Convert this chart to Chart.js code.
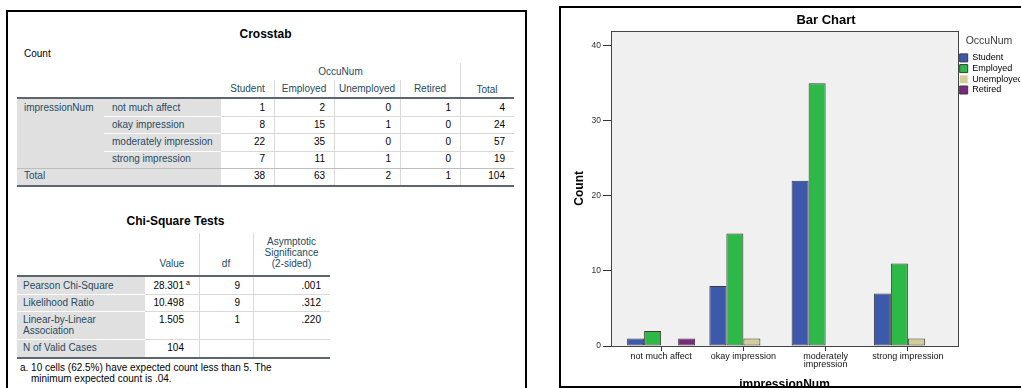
<!DOCTYPE html>
<html>
<head>
<meta charset="utf-8">
<title>impressionNum * OccuNum</title>
<script src="https://cdn.jsdelivr.net/npm/chart.js@4.4.1/dist/chart.umd.min.js"></script>
<style>
  html, body { margin: 0; padding: 0; width: 1021px; height: 388px; overflow: hidden; background: #fff; }
  body { position: relative; font-family: "Liberation Sans", Arial, sans-serif; }
  .frame { position: absolute; border: 2px solid #000; box-sizing: border-box; pointer-events: none; z-index: 5; }
  .t { position: absolute; white-space: nowrap; font-size: 10px; color: #264a60; }
  .ln { position: absolute; }
  #chartWrap { position: absolute; left: 561px; top: 8px; width: 480px; height: 392px; }
</style>
</head>
<body>
<div id="tables"></div>
<div id="chartWrap"><canvas id="barChart" width="480" height="392"></canvas></div>
<div class="frame" style="left:6px;top:10px;width:521px;height:400px"></div>
<div class="frame" style="left:559px;top:6px;width:600px;height:382px"></div>

<script>
// ---------- data ----------
const impressionLevels = ['not much affect', 'okay impression', 'moderately impression', 'strong impression'];
const occupations = ['Student', 'Employed', 'Unemployed', 'Retired'];
const studentCounts = [1, 8, 22, 7];
const employedCounts = [2, 15, 35, 11];
const unemployedCounts = [0, 1, 0, 1];
const retiredCounts = [1, 0, 0, 0];
const countsByOccupation = [studentCounts, employedCounts, unemployedCounts, retiredCounts];

const chiTestNames = [['Pearson Chi-Square'], ['Likelihood Ratio'], ['Linear-by-Linear', 'Association'], ['N of Valid Cases']];
const chiValues = ['28.301', '10.498', '1.505', '104'];
const chiValueNotes = ['a', '', '', ''];
const chiDf = ['9', '9', '1', ''];
const chiSig = ['.001', '.312', '.220', ''];
const chiFootnote = ['a. 10 cells (62.5%) have expected count less than 5. The', 'minimum expected count is .04.'];

const countTicks = [0, 10, 20, 30, 40];

// ---------- styling ----------
const FONT = '"Liberation Sans", Arial, sans-serif';
const LABEL_INK = '#264a60';
const VALUE_INK = '#010205';
const RULE_DARK = '#5b6670';
const RULE_LIGHT = '#d9d9d9';
const LABEL_FILL = '#e0e0e0';
const barFill = ['#3e58ac', '#2eb848', '#d3ce97', '#7c287d'];

// ---------- small DOM helpers for the pivot tables ----------
const layer = document.getElementById('tables');
function put(txt, x, y, o = {}) {
  const d = document.createElement('div');
  d.className = 't';
  d.textContent = txt;
  const h = 14;
  d.style.top = (y - h / 2) + 'px';
  d.style.height = h + 'px';
  d.style.lineHeight = h + 'px';
  if (o.align === 'right') d.style.right = (1021 - x) + 'px';
  else if (o.align === 'center') { d.style.left = (x - 200) + 'px'; d.style.width = '400px'; d.style.textAlign = 'center'; }
  else d.style.left = x + 'px';
  if (o.color) d.style.color = o.color;
  if (o.size) d.style.fontSize = o.size + 'px';
  if (o.bold) d.style.fontWeight = 'bold';
  layer.appendChild(d);
  return d;
}
function rule(x, y, w, h, color) {
  const d = document.createElement('div');
  d.className = 'ln';
  Object.assign(d.style, { left: x + 'px', top: y + 'px', width: w + 'px', height: h + 'px', background: color });
  layer.appendChild(d);
}

// ---------- Crosstab ----------
(function drawCrosstab() {
  const L = 17, R = 514, labelEnd = 221, subX = 112;
  const edges = [221, 274, 334, 400, 460, 514];
  const top = 99, rowH = 17.2;
  const nRows = impressionLevels.length + 1;
  const bottom = top + rowH * nRows;

  put('Crosstab', (L + R) / 2, 34, { align: 'center', bold: true, size: 12, color: VALUE_INK });
  put('Count', 24, 54, { color: VALUE_INK });

  // header
  put('OccuNum', (edges[0] + edges[4]) / 2, 71.5, { align: 'center' });
  occupations.forEach((name, c) => put(name, (edges[c] + edges[c + 1]) / 2, 89, { align: 'center' }));
  put('Total', (edges[4] + edges[5]) / 2, 89.5, { align: 'center' });

  // label area fill
  rule(L, top, labelEnd - L, bottom - top, LABEL_FILL);

  // vertical rules
  [274, 334, 400].forEach(x => rule(x, 80, 1, bottom - 80, RULE_LIGHT));
  rule(460, 63, 1, bottom - 63, RULE_LIGHT);

  // row rules
  for (let i = 1; i < impressionLevels.length; i++) {
    const y = Math.round(top + rowH * i);
    rule(104, y, labelEnd - 104, 1, '#ffffff');
    rule(labelEnd, y, R - labelEnd, 1, RULE_LIGHT);
  }
  rule(L, Math.round(top + rowH * impressionLevels.length), R - L, 1, '#bdbdbd');
  rule(L, top - 2, R - L, 2, RULE_DARK);
  rule(L, Math.round(bottom), R - L, 2, RULE_DARK);

  // body
  const colTotals = countsByOccupation.map(s => s.reduce((a, b) => a + b, 0));
  put('impressionNum', 24, top + rowH / 2);
  impressionLevels.forEach((lvl, r) => {
    const y = top + rowH * (r + 0.5);
    put(lvl, subX, y);
    let rowSum = 0;
    countsByOccupation.forEach((series, c) => {
      rowSum += series[r];
      put(String(series[r]), edges[c + 1] - 9, y, { align: 'right', color: VALUE_INK });
    });
    put(String(rowSum), edges[5] - 9, y, { align: 'right', color: VALUE_INK });
  });
  const ty = top + rowH * (impressionLevels.length + 0.5);
  put('Total', 24, ty);
  colTotals.forEach((v, c) => put(String(v), edges[c + 1] - 9, ty, { align: 'right', color: VALUE_INK }));
  put(String(colTotals.reduce((a, b) => a + b, 0)), edges[5] - 9, ty, { align: 'right', color: VALUE_INK });
})();

// ---------- Chi-Square Tests ----------
(function drawChiSquare() {
  const L = 17, R = 330, labelEnd = 145;
  const edges = [145, 199, 253, 330];
  const top = 277;
  const rowHeights = chiTestNames.map(lines => lines.length > 1 ? 28 : 17.2);
  const bottom = top + rowHeights.reduce((a, b) => a + b, 0);

  put('Chi-Square Tests', (L + R) / 2 + 2, 221, { align: 'center', bold: true, size: 12, color: VALUE_INK });

  put('Value', (edges[0] + edges[1]) / 2, 263.5, { align: 'center' });
  put('df', (edges[1] + edges[2]) / 2, 263.5, { align: 'center' });
  ['Asymptotic', 'Significance', '(2-sided)'].forEach((s, i) =>
    put(s, (edges[2] + edges[3]) / 2, 242 + i * 10.8, { align: 'center' }));

  rule(L, top, labelEnd - L, bottom - top, LABEL_FILL);
  [199, 253].forEach(x => rule(x, 233, 1, bottom - 233, RULE_LIGHT));

  let y0 = top;
  chiTestNames.forEach((lines, r) => {
    if (r > 0) {
      const y = Math.round(y0);
      rule(L, y, labelEnd - L, 1, '#ffffff');
      rule(labelEnd, y, R - labelEnd, 1, RULE_LIGHT);
    }
    const cy = y0 + 8.6;
    lines.forEach((s, k) => put(s, 23, cy + k * 10.6));
    put(chiValues[r], edges[1] - 15, cy, { align: 'right', color: VALUE_INK });
    if (chiValueNotes[r]) {
      put(chiValueNotes[r], edges[1] - 9, cy - 2.5, { align: 'right', color: VALUE_INK, size: 7 });
    }
    if (chiDf[r]) put(chiDf[r], edges[2] - 13, cy, { align: 'right', color: VALUE_INK });
    if (chiSig[r]) put(chiSig[r], edges[3] - 9, cy, { align: 'right', color: VALUE_INK });
    y0 += rowHeights[r];
  });
  rule(L, top - 2, R - L, 2, RULE_DARK);
  rule(L, Math.round(bottom), R - L, 2, RULE_DARK);

  put(chiFootnote[0], 20, 368, { color: VALUE_INK });
  put(chiFootnote[1], 31, 379, { color: VALUE_INK });
})();

// ---------- Bar chart ----------
Chart.defaults.font.family = FONT;

// light plotting panel with a dark outline, slightly wider than the category band
const plotPanel = {
  id: 'plotPanel',
  beforeDatasetsDraw(chart, args, opts) {
    const { ctx, chartArea: a } = chart;
    const x0 = Math.round(a.left - opts.sidePad) + 0.5;
    const x1 = Math.round(a.right + opts.sidePad) - 0.5;
    const y0 = Math.round(a.top) + 0.5;
    const y1 = Math.round(a.bottom) + 0.5;
    ctx.save();
    ctx.fillStyle = opts.fill;
    ctx.fillRect(x0, y0, x1 - x0, y1 - y0);
    ctx.strokeStyle = opts.stroke;
    ctx.lineWidth = 1;
    ctx.strokeRect(x0, y0, x1 - x0, y1 - y0);
    ctx.restore();
  },
  afterLayout(chart, args, opts) {
    // nudge the legend just past the panel edge and centre the heading over the whole frame
    chart.legend.left += opts.legendShift;
    chart.legend.right += opts.legendShift;
    chart.titleBlock.left += opts.titleShift;
    chart.titleBlock.right += opts.titleShift;
  }
};

new Chart(document.getElementById('barChart'), {
  type: 'bar',
  data: {
    labels: impressionLevels,
    datasets: occupations.map((name, i) => ({
      label: name,
      data: countsByOccupation[i],
      backgroundColor: barFill[i],
      borderColor: '#3a3a3a',
      borderWidth: c => (c.type === 'data' && c.raw === 0) ? 0 : 1,
      borderSkipped: false,
      categoryPercentage: 0.827,
      barPercentage: 1
    }))
  },
  options: {
    responsive: false,
    animation: false,
    devicePixelRatio: 1,
    events: [],
    layout: { padding: { left: 0, right: 30, top: 0, bottom: 0 } },
    plugins: {
      plotPanel: { sidePad: 9.5, fill: '#f0f0f0', stroke: '#444444', legendShift: 9, titleShift: 40 },
      title: {
        display: true,
        text: 'Bar Chart',
        color: '#000',
        font: { size: 13, weight: 'bold', lineHeight: 1.2 },
        padding: { top: 4.7, bottom: 2.4 }
      },
      legend: {
        position: 'right',
        align: 'start',
        maxWidth: 62,
        title: {
          display: true,
          text: 'OccuNum',
          position: 'center',
          color: '#3a3a3a',
          font: { size: 10.5, lineHeight: 1.2 },
          padding: { top: 27.7, bottom: 3.4 }
        },
        labels: { boxWidth: 8, boxHeight: 8, padding: 1.7, color: '#000', font: { size: 9 } }
      },
      tooltip: { enabled: false }
    },
    scales: {
      x: {
        grid: { offset: false, drawOnChartArea: false, drawTicks: true, tickLength: 5, color: '#333', tickWidth: 1 },
        border: { display: false },
        ticks: {
          color: '#111',
          font: { size: 9, lineHeight: 0.9 },
          padding: 1.5,
          maxRotation: 0,
          autoSkip: false,
          callback(value) {
            const s = this.getLabelForValue(value);
            return s.length > 18 ? s.split(' ') : s;
          }
        },
        title: {
          display: true,
          text: 'impressionNum',
          color: '#000',
          font: { size: 12, weight: 'bold', lineHeight: 1.2 },
          padding: { top: 0, bottom: 8.3 }
        },
        afterFit(scale) { scale.height = 54; }
      },
      y: {
        min: 0,
        max: 42,
        grid: { drawOnChartArea: false, drawTicks: true, tickLength: 17, color: '#333', tickWidth: 1 },
        border: { display: false },
        afterBuildTicks(scale) { scale.ticks = countTicks.map(v => ({ value: v })); },
        ticks: { color: '#333', font: { size: 8.5 }, padding: 2 },
        title: {
          display: true,
          text: 'Count',
          color: '#000',
          font: { size: 12, weight: 'bold', lineHeight: 1.2 },
          padding: { top: 11.8, bottom: 0 }
        },
        afterFit(scale) { scale.width = 59; }
      }
    }
  },
  plugins: [plotPanel]
});
</script>
</body>
</html>
